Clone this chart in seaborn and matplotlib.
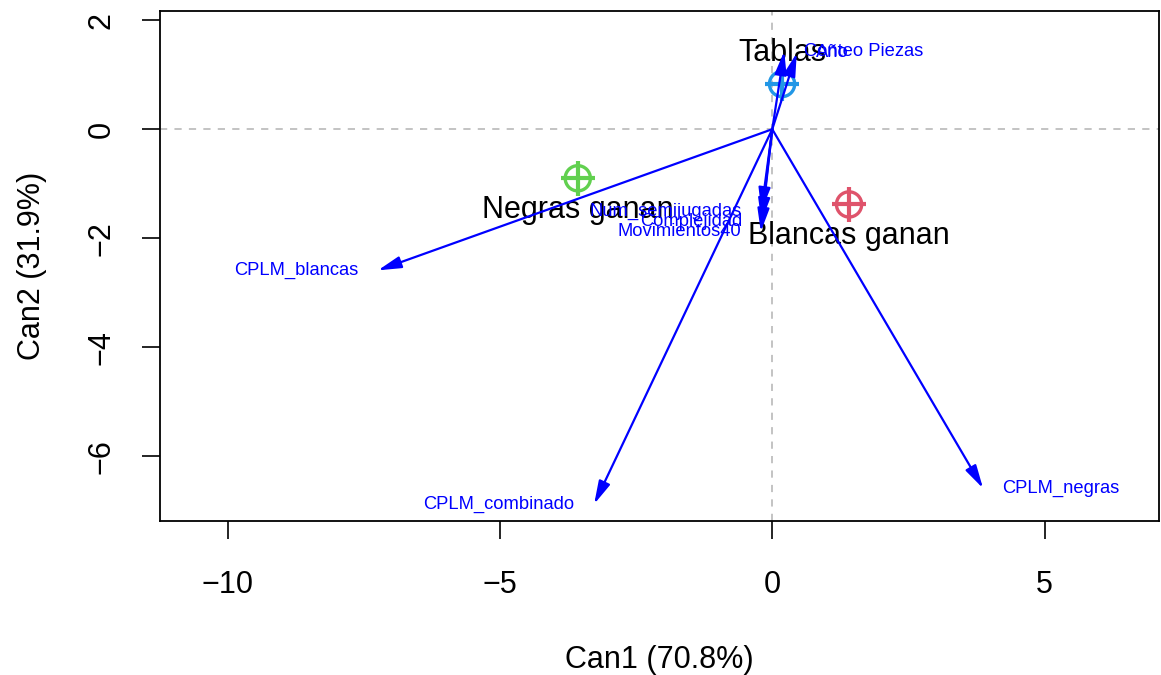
import matplotlib
matplotlib.use("Agg")
import matplotlib.pyplot as plt
from matplotlib.patches import FancyArrowPatch, ArrowStyle
import seaborn as sns
import pandas as pd

# ---- data ----
groups = ["Blancas ganan", "Negras ganan", "Tablas"]
group_can1 = [1.41, -3.57, 0.18]
group_can2 = [-1.38, -0.90, 0.83]
group_colors = ["#DF536B", "#61D04F", "#2297E6"]

variables = ["Año", "Conteo Piezas", "Movimientos40", "Complejidad",
             "Num_semijugadas", "CPLM_blancas", "CPLM_negras", "CPLM_combinado"]
var_can1 = [0.45, 0.22, -0.21, -0.20, -0.20, -7.24, 3.87, -3.27]
var_can2 = [1.40, 1.43, -1.88, -1.69, -1.50, -2.59, -6.59, -6.88]

xticks = [-10, -5, 0, 5]
yticks = [-6, -4, -2, 0, 2]
xlabel = "Can1 (70.8%)"
ylabel = "Can2 (31.9%)"

# ---- plot ----
sns.set_theme(style="white")
plt.rcParams["font.family"] = ["Liberation Sans", "DejaVu Sans"]
plt.rcParams["axes.unicode_minus"] = True
plt.rcParams["text.color"] = "black"
plt.rcParams["axes.labelcolor"] = "black"
plt.rcParams["xtick.color"] = "black"
plt.rcParams["ytick.color"] = "black"

fig = plt.figure(figsize=(11.61, 6.75), dpi=100)
W, H = 1161, 675
ax = fig.add_axes([160 / W, (H - 521) / H, 999 / W, 510 / H])

ax.set_xlim(-11.24, 7.10)
ax.set_ylim(-7.19, 2.17)

ax.axhline(0, color="#BEBEBE", lw=1.3, ls=(0, (4, 4)), zorder=0)
ax.axvline(0, color="#BEBEBE", lw=1.3, ls=(0, (4, 4)), zorder=0)

df = pd.DataFrame({"Can1": group_can1, "Can2": group_can2, "group": groups})
pal = dict(zip(groups, group_colors))
sns.scatterplot(data=df, x="Can1", y="Can2", hue="group", palette=pal,
                marker="o", s=330, linewidth=2.4,
                legend=False, ax=ax, zorder=3)
coll = ax.collections[-1]
coll.set_facecolor("none")
coll.set_edgecolor([pal[g] for g in groups])
sns.scatterplot(data=df, x="Can1", y="Can2", hue="group", palette=pal,
                marker="+", s=620, linewidth=3.0, legend=False, ax=ax, zorder=3)

for g, x, y in zip(groups, group_can1, group_can2):
    dy = 22.5 if y > 0 else -22.5
    ax.annotate(g, (x, y), xytext=(0, dy), textcoords="offset points",
                ha="center", va="center", fontsize=22, color="black", zorder=4)

style = ArrowStyle("-|>", head_length=14, head_width=3.6)
for v, x, y in zip(variables, var_can1, var_can2):
    arr = FancyArrowPatch((0, 0), (x, y), arrowstyle=style, mutation_scale=1,
                          color="blue", lw=1.6, shrinkA=0, shrinkB=0, zorder=5)
    ax.add_patch(arr)
    if x < 0:
        ax.annotate(v, (x, y), xytext=(-14, 0), textcoords="offset points",
                    ha="right", va="center", fontsize=13.2, color="blue", zorder=6)
    else:
        ax.annotate(v, (x, y), xytext=(14, 0), textcoords="offset points",
                    ha="left", va="center", fontsize=13.2, color="blue", zorder=6)

ax.set_xticks(xticks)
ax.set_yticks(yticks)
ax.set_xticklabels([f"{t:d}".replace("-", "\u2212") for t in xticks])
ax.set_yticklabels([f"{t:d}".replace("-", "\u2212") for t in yticks],
                   rotation=90, va="center")
ax.tick_params(axis="both", which="both", direction="out", length=13,
               width=1.2, color="black", labelcolor="black", labelsize=22,
               bottom=True, left=True)
ax.tick_params(axis="x", pad=22)
ax.tick_params(axis="y", pad=18)
for s in ax.spines.values():
    s.set_color("black")
    s.set_linewidth(1.3)

ax.set_xlabel(xlabel, fontsize=22, labelpad=33, color="black")
ax.set_ylabel(ylabel, fontsize=22, labelpad=29, color="black")

fig.savefig("out.png", dpi=100)
